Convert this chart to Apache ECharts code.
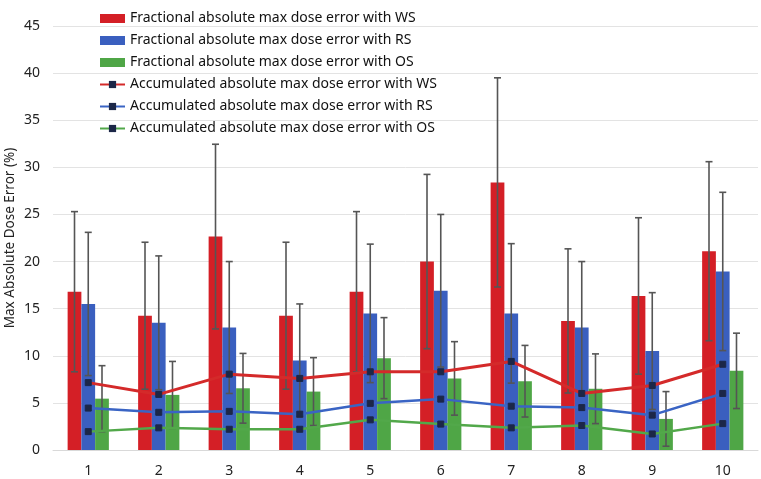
<!DOCTYPE html>
<html><head><meta charset="utf-8">
<script src="https://cdn.jsdelivr.net/npm/echarts@6/dist/echarts.min.js"></script>
<style>html,body{margin:0;padding:0;background:#fff}#c{width:761px;height:479px}</style>
</head><body><div id="c"></div>
<script>
const categories = ['1','2','3','4','5','6','7','8','9','10'];
const yTicks = [0,5,10,15,20,25,30,35,40,45];
const fracWS = [16.8, 14.25, 22.65, 14.25, 16.8, 20.0, 28.4, 13.7, 16.35, 21.1];
const fracWSerr = [8.5, 7.8, 9.8, 7.8, 8.5, 9.25, 11.1, 7.65, 8.3, 9.5];
const fracRS = [15.5, 13.5, 13.0, 9.5, 14.5, 16.9, 14.5, 13.0, 10.5, 18.95];
const fracRSerr = [7.6, 7.1, 7.0, 6.0, 7.35, 8.1, 7.4, 7.0, 6.2, 8.4];
const fracOS = [5.45, 5.85, 6.55, 6.2, 9.75, 7.6, 7.3, 6.5, 3.3, 8.4];
const fracOSerr = [3.5, 3.55, 3.7, 3.6, 4.3, 3.9, 3.8, 3.7, 2.9, 4.0];
const accWS = [7.15, 5.9, 8.05, 7.6, 8.3, 8.3, 9.4, 6.0, 6.85, 9.1];
const accRS = [4.45, 4.0, 4.1, 3.8, 4.95, 5.4, 4.65, 4.5, 3.7, 6.0];
const accOS = [1.95, 2.35, 2.2, 2.2, 3.2, 2.75, 2.35, 2.6, 1.7, 2.8];

const names = [
  'Fractional absolute max dose error with WS',
  'Fractional absolute max dose error with RS',
  'Fractional absolute max dose error with OS',
  'Accumulated absolute max dose error with WS',
  'Accumulated absolute max dose error with RS',
  'Accumulated absolute max dose error with OS'
];
const RED = '#d41f26', BLUE = '#3a5fbf', GREEN = '#4fa646';
const LRED = '#d42a2a', LBLUE = '#3a64c4', LGREEN = '#52a84a';
const MARK = '#1c2748';
const FONT = 'Noto Sans';
const BW = 0.195;

function errSeries(vals, errs, slot) {
  return {
    type: 'custom', z: 3, silent: true,
    data: vals.map((v, i) => [i, v, errs[i]]),
    renderItem: function (params, api) {
      const i = api.value(0), v = api.value(1), e = api.value(2);
      const band = api.size([1, 0])[0];
      const off = slot * band * BW;
      const top = api.coord([i, v + e]);
      const bot = api.coord([i, v - e]);
      const x = top[0] + off;
      const cap = 3.5;
      const st = { stroke: '#555', lineWidth: 1.6 };
      return { type: 'group', children: [
        { type: 'line', shape: { x1: x, y1: top[1], x2: x, y2: bot[1] }, style: st },
        { type: 'line', shape: { x1: x - cap, y1: top[1], x2: x + cap, y2: top[1] }, style: st },
        { type: 'line', shape: { x1: x - cap, y1: bot[1], x2: x + cap, y2: bot[1] }, style: st }
      ]};
    }
  };
}
function barSeries(name, vals, color) {
  return { name, type: 'bar', data: vals, barWidth: (BW * 100) + '%', barGap: '0%',
    itemStyle: { color }, z: 2 };
}
function lineSeries(name, vals, color, w) {
  return { name, type: 'line', data: vals, z: 5, symbol: 'rect', symbolSize: 6,
    lineStyle: { color, width: w }, itemStyle: { color: MARK, borderColor: MARK },
    color: color };
}

const chart = echarts.init(document.getElementById('c'), null, { renderer: 'canvas' });
chart.setOption({
  animation: false,
  backgroundColor: '#fff',
  textStyle: { fontFamily: FONT },
  grid: { left: 53, right: 3, top: 26, bottom: 29, containLabel: false, outerBoundsMode: 'none' },
  legend: {
    orient: 'vertical', left: 94, top: 6, itemGap: 7, itemWidth: 25, itemHeight: 9,
    textStyle: { fontFamily: FONT, fontSize: 14, color: '#111', lineHeight: 15 },
    data: [
      { name: names[0], icon: 'rect' }, { name: names[1], icon: 'rect' }, { name: names[2], icon: 'rect' },
      { name: names[3] }, { name: names[4] }, { name: names[5] }
    ]
  },
  xAxis: {
    type: 'category', data: categories,
    axisLine: { show: true, lineStyle: { color: '#d9d9d9' } },
    axisTick: { show: false },
    axisLabel: { color: '#222', fontSize: 14, fontFamily: FONT, margin: 14 }
  },
  yAxis: {
    type: 'value', min: yTicks[0], max: yTicks[yTicks.length - 1], interval: 5,
    name: 'Max Absolute Dose Error (%)', nameLocation: 'middle', nameGap: 36, nameMoveOverlap: false,
    nameTextStyle: { color: '#222', fontSize: 13.5, fontFamily: FONT },
    axisLine: { show: false }, axisTick: { show: false },
    axisLabel: { color: '#222', fontSize: 14, fontFamily: FONT, margin: 13 },
    splitLine: { lineStyle: { color: '#e3e3e3', width: 1 } }
  },
  series: [
    barSeries(names[0], fracWS, RED),
    barSeries(names[1], fracRS, BLUE),
    barSeries(names[2], fracOS, GREEN),
    errSeries(fracWS, fracWSerr, -1),
    errSeries(fracRS, fracRSerr, 0),
    errSeries(fracOS, fracOSerr, 1),
    lineSeries(names[3], accWS, LRED, 3),
    lineSeries(names[4], accRS, LBLUE, 2.5),
    lineSeries(names[5], accOS, LGREEN, 2.5)
  ]
});
</script></body></html>
